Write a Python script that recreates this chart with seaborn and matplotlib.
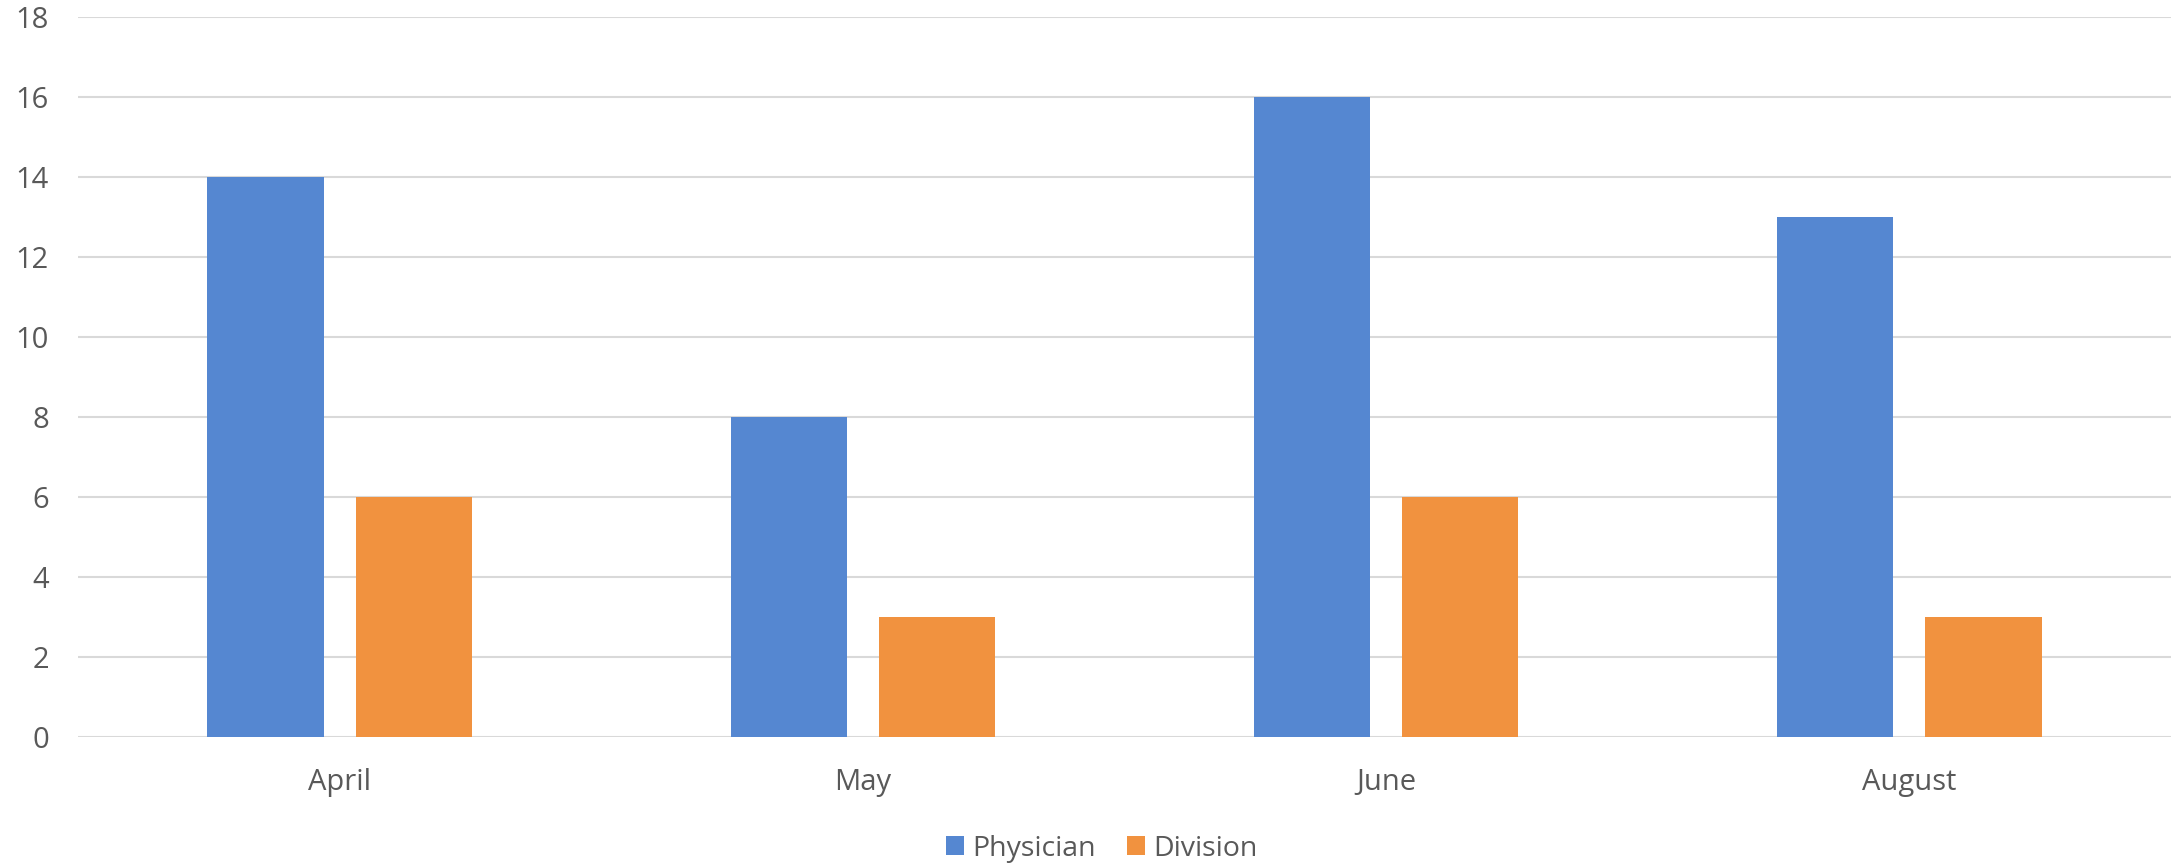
import matplotlib
matplotlib.use("Agg")
import matplotlib.pyplot as plt
import pandas as pd
import seaborn as sns
from matplotlib.patches import Patch

# Chart data
months = ["April", "May", "June", "August"]
physician = [14, 8, 16, 13]
division = [6, 3, 6, 3]
series_names = ["Physician", "Division"]
y_ticks = [0, 2, 4, 6, 8, 10, 12, 14, 16, 18]

sns.set_theme(style="white")
plt.rcParams['font.family'] = ['Open Sans', 'DejaVu Sans']

df = pd.DataFrame({
    "Month": months * 2,
    "Count": physician + division,
    "Series": [series_names[0]] * len(months) + [series_names[1]] * len(months),
})

fig = plt.figure(figsize=(21.78, 8.65), dpi=100)
ax = fig.add_axes([0.0358, 0.148, 0.961, 0.832])

palette = {"Physician": "#5587D1", "Division": "#F1923F"}
sns.barplot(data=df, x="Month", y="Count", hue="Series", palette=palette,
            width=0.566, gap=0.215, saturation=1, ax=ax, legend=False,
            edgecolor="none", zorder=3)

ax.set_ylim(0, 18)
ax.set_yticks(y_ticks)
ax.set_xlim(-0.5, len(months) - 0.5)
ax.yaxis.grid(True, color="#d9d9d9", linewidth=1.5, zorder=0)
ax.set_axisbelow(True)
for s in ax.spines.values():
    s.set_visible(False)
ax.set_xlabel("")
ax.set_ylabel("")
ax.tick_params(axis="y", length=0, pad=21, labelsize=21, labelcolor="#595959")
ax.tick_params(axis="x", length=0, pad=22, labelsize=21, labelcolor="#595959")

# Legend with square handles at the bottom
handles = [Patch(facecolor=palette[n], edgecolor="none", label=n) for n in series_names]
leg = fig.legend(handles=handles, loc="center", bbox_to_anchor=(0.506, 0.019),
                 ncol=2, frameon=False, fontsize=20.5, handlelength=0.62,
                 handleheight=0.62, handletextpad=0.3, columnspacing=1.1)
for t in leg.get_texts():
    t.set_color("#595959")

fig.savefig("out.png", dpi=100)
